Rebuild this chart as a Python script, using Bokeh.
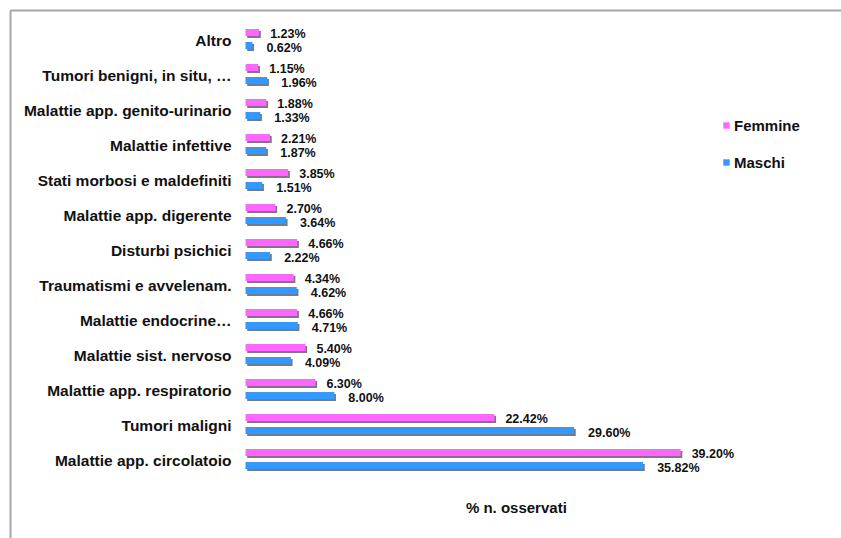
from bokeh.plotting import figure
from bokeh.models import (ColumnDataSource, Range1d, Legend, LegendItem, Label, FixedTicker)
from bokeh.transform import dodge
from bokeh.core.properties import value
from bokeh.embed import file_html
from bokeh.resources import INLINE

# ---- data ----
categories = ["Altro", "Tumori benigni, in situ, \u2026", "Malattie app. genito-urinario",
              "Malattie infettive", "Stati morbosi e maldefiniti", "Malattie app. digerente",
              "Disturbi psichici", "Traumatismi e avvelenam.", "Malattie endocrine\u2026",
              "Malattie sist. nervoso", "Malattie app. respiratorio", "Tumori maligni",
              "Malattie app. circolatoio"]
femmine = [1.23, 1.15, 1.88, 2.21, 3.85, 2.70, 4.66, 4.34, 4.66, 5.40, 6.30, 22.42, 39.20]
maschi = [0.62, 1.96, 1.33, 1.87, 1.51, 3.64, 2.22, 4.62, 4.71, 4.09, 8.00, 29.60, 35.82]
series_names = ["Femmine", "Maschi"]
axis_title = "% n. osservati"

PINK = "#FF66FF"
BLUE = "#3399FF"
SHADOW = "#7a7a7a"
FONT = "Liberation Sans"

n = len(categories)
src = ColumnDataSource(dict(
    idx=list(range(n)),
    cat=categories,
    fem=femmine,
    mas=maschi,
    fem_s=[v + 0.15 for v in femmine],
    mas_s=[v + 0.15 for v in maschi],
    fem_lab=[f"{v:.2f}%" for v in femmine],
    mas_lab=[f"{v:.2f}%" for v in maschi],
))

p = figure(width=841, height=538, output_backend="svg", toolbar_location=None,
           x_range=Range1d(-21.17, 53.69), y_range=Range1d(n - 1 + 2.229, -0.857),
           x_axis_location="above",
           min_border_left=10, min_border_top=10, min_border_right=0, min_border_bottom=0)
p.background_fill_color = "white"
p.border_fill_color = "white"
p.outline_line_color = None
p.grid.visible = False

for ax in (p.xaxis[0], p.yaxis[0]):
    ax.ticker = FixedTicker(ticks=[])
    ax.major_tick_line_color = None
    ax.minor_tick_line_color = None
    ax.major_label_standoff = 0
    ax.axis_line_color = "#a6a6a6"
    ax.axis_line_width = 2

H = 0.2
OFF_F = -0.229
OFF_M = 0.143
SH = 0.057

# shadows
p.hbar(y=dodge("idx", OFF_F + SH), left=0.15, right="fem_s", height=H, source=src,
       fill_color=SHADOW, line_color=None)
p.hbar(y=dodge("idx", OFF_M + SH), left=0.15, right="mas_s", height=H, source=src,
       fill_color=SHADOW, line_color=None)
# bars
rf = p.hbar(y=dodge("idx", OFF_F), left=0, right="fem", height=H, source=src,
            fill_color=PINK, line_color=None)
rm = p.hbar(y=dodge("idx", OFF_M), left=0, right="mas", height=H, source=src,
            fill_color=BLUE, line_color=None)

# value labels
p.text(x="fem", y=dodge("idx", OFF_F), text="fem_lab", source=src, x_offset=11, y_offset=1.5,
       text_align="left", text_baseline="middle", text_font=value(FONT),
       text_font_style="bold", text_font_size="12.5px", text_color="#111111")
p.text(x="mas", y=dodge("idx", OFF_M), text="mas_lab", source=src, x_offset=14, y_offset=3,
       text_align="left", text_baseline="middle", text_font=value(FONT),
       text_font_style="bold", text_font_size="12.5px", text_color="#111111")

# category labels
p.text(x=0, y="idx", text="cat", source=src, x_offset=-14,
       text_align="right", text_baseline="middle", text_font=value(FONT),
       text_font_style="bold", text_font_size="15.5px", text_color="#111111")

# axis title
p.add_layout(Label(x=24.4, y=n - 1 + 1.33, text=axis_title, text_align="center",
                   text_baseline="middle", text_font=FONT, text_font_style="bold",
                   text_font_size="15px", text_color="#111111"))

legend = Legend(items=[LegendItem(label=series_names[0], renderers=[rf]),
                       LegendItem(label=series_names[1], renderers=[rm])],
                location=(712, 366), glyph_width=8, glyph_height=8, label_height=20,
                spacing=17, padding=0, margin=0, label_standoff=4,
                label_text_font=FONT, label_text_font_style="bold",
                label_text_font_size="15px", label_text_color="#111111",
                border_line_color=None, background_fill_alpha=0)
p.add_layout(legend)

open("out.html", "w").write(file_html(p, INLINE))
